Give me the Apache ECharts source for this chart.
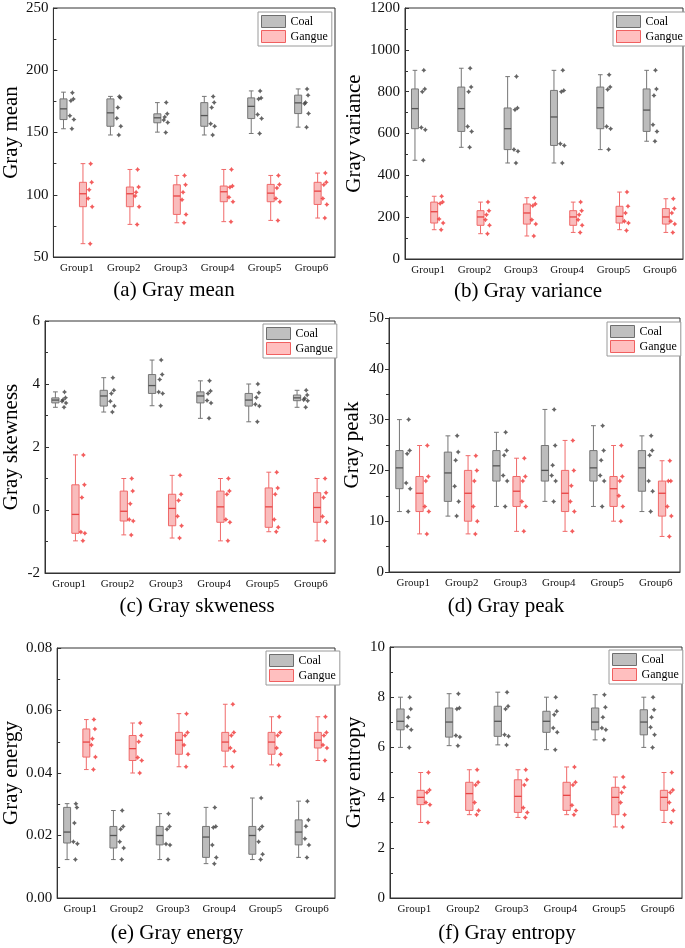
<!DOCTYPE html>
<html>
<head>
<meta charset="utf-8">
<title>Gray features</title>
<script src="https://cdn.jsdelivr.net/npm/echarts@6/dist/echarts.min.js"></script>
<style>
  html, body { margin: 0; padding: 0; background: #fff; }
  #main { width: 685px; height: 948px; }
</style>
</head>
<body>
<div id="main"></div>
<script>
var groups = ['Group1', 'Group2', 'Group3', 'Group4', 'Group5', 'Group6'];

// box rows: [min, q1, median, q3, max]
// (a) gray mean
var meanCoalBox = [[153, 160.4, 169, 177, 182.4], [148, 155, 165.8, 177, 179], [150.3, 157.8, 161.8, 165, 174], [148, 155, 163.6, 174, 179], [149.2, 161.2, 171, 177.8, 183.4], [154.3, 165.2, 173.8, 180, 185]];
var meanCoalPts = [[182, 177, 175.5, 163.5, 160.4, 153], [179, 178, 170, 161.5, 155, 148], [174, 165, 162.5, 160, 158, 150], [179, 174, 170, 157, 155, 148], [183.4, 177.8, 177, 164.4, 161.2, 149.2], [185, 180, 174, 173, 165.2, 154.3]];
var meanGangueBox = [[60.7, 90.4, 100.8, 110, 125], [76.2, 90.4, 100.8, 106.2, 120.3], [77.5, 84.2, 99, 108, 115.5], [78.4, 94.4, 102.4, 107, 120.3], [79.4, 94.4, 101.3, 108.3, 115.5], [81.3, 92.2, 102.9, 110, 117.4]];
var meanGanguePts = [[125, 110, 104, 97, 90.4, 60.7], [120.3, 106.2, 102, 99, 90.4, 76.2], [115.5, 108, 102, 96, 84.2, 77.5], [120.3, 107, 106, 98, 94.4, 78.4], [115.5, 108.3, 105.5, 97, 94.4, 79.4], [117.4, 110, 108, 97, 92.2, 81.3]];

// (b) gray variance
var varCoalBox = [[472, 623, 719, 813, 902], [534, 610, 719, 822, 912], [459, 523, 623, 722, 872], [459, 543, 679, 806, 902], [523, 623, 723, 822, 881], [563, 610, 712, 813, 902]];
var varCoalPts = [[902, 813, 800, 629, 618, 472], [912, 822, 800, 634, 610, 534], [872, 722, 714, 523, 515, 459], [902, 806, 800, 551, 543, 459], [881, 822, 810, 634, 623, 523], [902, 813, 782, 642, 610, 563]];
var varGangueBox = [[140, 172, 226, 272, 300], [121, 161, 201, 231, 272], [110, 167, 220, 263, 293], [127, 161, 201, 231, 272], [140, 172, 204, 252, 320], [127, 167, 201, 241, 288]];
var varGanguePts = [[300, 272, 265, 191, 172, 140], [272, 231, 212, 188, 161, 121], [293, 263, 255, 188, 167, 110], [272, 231, 212, 188, 161, 127], [320, 252, 220, 180, 172, 136], [288, 241, 220, 180, 167, 127]];

// (c) gray skewness
var skewCoalBox = [[3.26, 3.40, 3.49, 3.56, 3.75], [3.11, 3.30, 3.62, 3.80, 4.20], [3.31, 3.70, 3.95, 4.30, 4.76], [2.91, 3.40, 3.62, 3.75, 4.10], [2.80, 3.30, 3.49, 3.70, 4.00], [3.26, 3.47, 3.56, 3.65, 3.80]];
var skewCoalPts = [[3.75, 3.56, 3.50, 3.45, 3.40, 3.26], [4.20, 3.80, 3.70, 3.45, 3.30, 3.11], [4.76, 4.30, 4.14, 3.75, 3.70, 3.31], [4.10, 3.78, 3.70, 3.48, 3.40, 2.91], [4.00, 3.72, 3.57, 3.36, 3.30, 2.80], [3.80, 3.65, 3.55, 3.50, 3.47, 3.26]];
var skewGangueBox = [[-0.98, -0.74, -0.14, 0.80, 1.75], [-0.79, -0.35, -0.04, 0.60, 1.00], [-0.89, -0.50, 0.05, 0.50, 1.10], [-0.98, -0.39, 0.10, 0.60, 1.00], [-0.69, -0.55, 0.10, 0.70, 1.20], [-0.98, -0.39, 0.08, 0.55, 1.00]];
var skewGanguePts = [[1.75, 0.80, 0.40, -0.70, -0.74, -0.98], [1.00, 0.60, 0.20, -0.30, -0.35, -0.79], [1.10, 0.50, 0.30, -0.20, -0.50, -0.89], [1.00, 0.60, 0.50, -0.30, -0.39, -0.98], [1.20, 0.70, 0.50, -0.30, -0.55, -0.69], [1.00, 0.55, 0.40, -0.21, -0.39, -0.98]];

// (d) gray peak
var peakCoalBox = [[11.9, 16.4, 20.5, 23.9, 30], [11, 13.9, 19.5, 23.6, 26.8], [12.9, 17.9, 20.9, 23.9, 27.5], [13.9, 17.9, 20, 24.9, 32], [12.9, 17.9, 20.5, 23.9, 28.8], [11.9, 15.9, 20.5, 23.9, 26.8]];
var peakCoalPts = [[30, 23.9, 23.3, 17.5, 16.4, 11.9], [26.8, 23.6, 22, 16.9, 13.9, 11], [27.5, 23.9, 23, 19, 17.9, 12.9], [32, 24.9, 21, 19, 17.9, 13.9], [28.8, 23.9, 22, 19, 17.9, 12.9], [26.8, 23.9, 23, 17.9, 15.9, 11.9]];
var peakGangueBox = [[7.5, 11.9, 15.5, 18.8, 24.9], [7.5, 10, 15.5, 20, 22.9], [8, 12.9, 15.9, 18.8, 22.4], [8, 11.9, 15.5, 20, 25.9], [10, 12.9, 16.4, 18.8, 24.9], [7, 11, 15.5, 17.9, 21.9]];
var peakGanguePts = [[24.9, 18.8, 17.9, 12.9, 11.9, 7.5], [22.9, 20, 17.9, 12.9, 10, 7.5], [22.4, 18.8, 17.9, 13.9, 12.9, 8], [25.9, 20, 17, 13.9, 11.9, 8], [24.9, 18.8, 17.9, 15, 12.9, 10], [21.9, 17.9, 17.9, 12.9, 11, 7]];

// (e) gray energy
var energyCoalBox = [[0.0123, 0.0176, 0.0211, 0.029, 0.0302], [0.0123, 0.016, 0.020, 0.0229, 0.028], [0.0123, 0.017, 0.020, 0.0229, 0.027], [0.011, 0.013, 0.0195, 0.0229, 0.029], [0.0123, 0.014, 0.020, 0.0229, 0.032], [0.013, 0.017, 0.0211, 0.025, 0.031]];
var energyCoalPts = [[0.0302, 0.029, 0.024, 0.018, 0.0174, 0.0123], [0.028, 0.0229, 0.022, 0.018, 0.016, 0.0123], [0.027, 0.0229, 0.022, 0.0173, 0.017, 0.0123], [0.029, 0.0229, 0.0226, 0.017, 0.013, 0.011], [0.032, 0.0229, 0.022, 0.018, 0.014, 0.0123], [0.031, 0.025, 0.023, 0.019, 0.017, 0.013]];
var energyGangueBox = [[0.0411, 0.0451, 0.0499, 0.0541, 0.0571], [0.040, 0.044, 0.0478, 0.052, 0.056], [0.042, 0.046, 0.0505, 0.053, 0.059], [0.042, 0.047, 0.0499, 0.053, 0.062], [0.0426, 0.046, 0.0499, 0.053, 0.058], [0.044, 0.048, 0.0505, 0.053, 0.058]];
var energyGanguePts = [[0.0571, 0.0541, 0.051, 0.049, 0.0451, 0.0411], [0.056, 0.052, 0.050, 0.045, 0.044, 0.040], [0.059, 0.053, 0.052, 0.049, 0.046, 0.042], [0.062, 0.053, 0.052, 0.048, 0.047, 0.042], [0.058, 0.053, 0.052, 0.048, 0.046, 0.0426], [0.058, 0.053, 0.052, 0.049, 0.048, 0.044]];

// (f) gray entropy
var entropyCoalBox = [[6.0, 6.7, 7.04, 7.53, 8.0], [6.07, 6.41, 7.01, 7.57, 8.14], [6.1, 6.44, 7.04, 7.64, 8.2], [5.91, 6.6, 7.04, 7.44, 8.0], [6.3, 6.7, 7.01, 7.57, 8.1], [6.0, 6.5, 7.01, 7.5, 8.0]];
var entropyCoalPts = [[8.0, 7.53, 7.2, 6.84, 6.7, 6.0], [8.14, 7.57, 7.53, 6.47, 6.41, 6.07], [8.2, 7.64, 7.53, 6.5, 6.44, 6.1], [8.0, 7.44, 7.3, 6.77, 6.6, 5.91], [8.1, 7.6, 7.2, 6.77, 6.7, 6.3], [8.0, 7.5, 7.2, 6.8, 6.5, 6.0]];
var entropyGangueBox = [[3.01, 3.72, 4.01, 4.29, 5.0], [3.32, 3.49, 4.16, 4.61, 5.11], [3.21, 3.41, 4.05, 4.71, 5.11], [3.32, 3.49, 4.09, 4.61, 5.22], [2.83, 3.32, 4.01, 4.41, 4.82], [3.01, 3.49, 4.01, 4.29, 5.0]];
var entropyGanguePts = [[5.0, 4.3, 4.2, 3.8, 3.72, 3.01], [5.11, 4.61, 4.5, 3.8, 3.49, 3.32], [5.11, 4.71, 4.5, 3.6, 3.41, 3.21], [5.22, 4.61, 4.5, 3.7, 3.49, 3.32], [4.82, 4.41, 4.2, 3.8, 3.32, 2.83], [5.0, 4.3, 4.2, 3.8, 3.49, 3.01]];

var serif = "'Liberation Serif', 'Times New Roman', serif";
var coalStyle = { fill: '#bcbcbc', line: '#767676', median: '#555', dot: '#3f3f3f' };
var gangueStyle = { fill: '#f9bcbc', line: '#f06a6a', median: '#e84444', dot: '#f03434' };
var jitter = [0.5, 1.5, -1, -2, 2, 0];
var star = 'path://M0,-5 L2,-2 L5,0 L2,2 L0,5 L-2,2 L-5,0 L-2,-2 Z';

var panels = [
  { grid: [50, 8, 285, 249], y: [50, 250, 50], name: 'Gray mean', gap: 31, inside: true, title: '(a) Gray mean', tpos: [174, 292], leg: [258, 12],
    coalBox: meanCoalBox, coalPts: meanCoalPts, gangueBox: meanGangueBox, ganguePts: meanGanguePts },
  { grid: [405, 8, 278, 251], y: [0, 1200, 200], name: 'Gray variance', gap: 40, inside: true, title: '(b) Gray variance', tpos: [528, 293], leg: [613, 12],
    coalBox: varCoalBox, coalPts: varCoalPts, gangueBox: varGangueBox, ganguePts: varGanguePts },
  { grid: [41, 321, 294, 252], y: [-2, 6, 2], name: 'Gray skewness', gap: 23, inside: true, title: '(c) Gray skweness', tpos: [197, 608], leg: [263, 324],
    coalBox: skewCoalBox, coalPts: skewCoalPts, gangueBox: skewGangueBox, ganguePts: skewGanguePts },
  { grid: [389, 318, 291, 254], y: [0, 50, 10], name: 'Gray peak', gap: 26, inside: false, title: '(d) Gray peak', tpos: [506, 608], leg: [607, 322],
    coalBox: peakCoalBox, coalPts: peakCoalPts, gangueBox: peakGangueBox, ganguePts: peakGanguePts },
  { grid: [54, 648, 281, 250], y: [0, 0.08, 0.02], name: 'Gray energy', gap: 34, inside: true, title: '(e) Gray energy', tpos: [177, 935], leg: [266, 651], dec: 2,
    coalBox: energyCoalBox, coalPts: energyCoalPts, gangueBox: energyGangueBox, ganguePts: energyGanguePts },
  { grid: [390, 647, 292, 251], y: [0, 10, 2], name: 'Gray entropy', gap: 25, inside: true, title: '(f) Gray entropy', tpos: [507, 935], leg: [609, 650],
    coalBox: entropyCoalBox, coalPts: entropyCoalPts, gangueBox: entropyGangueBox, ganguePts: entropyGanguePts }
];

function boxItem(shift, c) {
  return function (params, api) {
    var k = api.value(0);
    var band = api.size([1, 0])[0];
    var x = api.coord([k, api.value(3)])[0] + shift * band;
    var w = band * 0.15;
    var y = [1, 2, 3, 4, 5].map(function (d) { return api.coord([k, api.value(d)])[1]; });
    var ls = { stroke: c.line, lineWidth: 1 };
    return {
      type: 'group',
      children: [
        { type: 'line', shape: { x1: x, y1: y[4], x2: x, y2: y[0] }, style: ls },
        { type: 'line', shape: { x1: x - w / 3, y1: y[4], x2: x + w / 3, y2: y[4] }, style: ls },
        { type: 'line', shape: { x1: x - w / 3, y1: y[0], x2: x + w / 3, y2: y[0] }, style: ls },
        { type: 'rect', shape: { x: x - w / 2, y: y[3], width: w, height: y[1] - y[3] }, style: { fill: c.fill, stroke: c.line, lineWidth: 1 } },
        { type: 'line', shape: { x1: x - w / 2, y1: y[2], x2: x + w / 2, y2: y[2] }, style: { stroke: c.median, lineWidth: 1.3 } }
      ]
    };
  };
}

function dots(pts, shift) {
  var out = [];
  pts.forEach(function (list, k) {
    list.forEach(function (v, j) {
      out.push({ value: [k, v], symbolOffset: [shift + jitter[j % jitter.length], 0] });
    });
  });
  return out;
}

var option = { animation: false, grid: [], xAxis: [], yAxis: [], series: [], legend: [], title: [] };

panels.forEach(function (p, i) {
  var band = p.grid[2] / groups.length;
  option.grid.push({ left: p.grid[0], top: p.grid[1], width: p.grid[2], height: p.grid[3], show: true, borderColor: '#333', borderWidth: 1 });
  option.xAxis.push({
    gridIndex: i, type: 'category', data: groups,
    axisLine: { onZero: false, lineStyle: { color: '#333' } },
    axisTick: { inside: true, alignWithLabel: true, length: 6, lineStyle: { color: '#333' } },
    axisLabel: { interval: 0, margin: 6, fontFamily: serif, fontSize: 11, color: '#111' }
  });
  option.yAxis.push({
    gridIndex: i, type: 'value', min: p.y[0], max: p.y[1], interval: p.y[2],
    name: p.name, nameLocation: 'middle', nameGap: p.gap,
    nameTextStyle: { fontFamily: serif, fontSize: 21, color: '#000' },
    axisLine: { show: true, lineStyle: { color: '#333' } },
    axisTick: { show: true, inside: p.inside, length: 4, lineStyle: { color: '#333' } },
    minorTick: { show: true, splitNumber: 2, length: 3, lineStyle: { color: '#333' } },
    splitLine: { show: false },
    axisLabel: {
      margin: 5, fontFamily: serif, fontSize: 15, color: '#111',
      formatter: function (v) { return p.dec ? v.toFixed(p.dec) : String(v); }
    }
  });
  option.series.push(
    { type: 'custom', name: 'Coal', xAxisIndex: i, yAxisIndex: i, renderItem: boxItem(-0.285, coalStyle),
      itemStyle: { color: coalStyle.fill }, encode: { x: 0, y: [1, 2, 3, 4, 5] },
      data: p.coalBox.map(function (b, k) { return [k].concat(b); }) },
    { type: 'custom', name: 'Gangue', xAxisIndex: i, yAxisIndex: i, renderItem: boxItem(0.13, gangueStyle),
      itemStyle: { color: gangueStyle.fill }, encode: { x: 0, y: [1, 2, 3, 4, 5] },
      data: p.gangueBox.map(function (b, k) { return [k].concat(b); }) },
    { type: 'scatter', name: 'Coal', xAxisIndex: i, yAxisIndex: i, symbol: star, symbolSize: 5,
      itemStyle: { color: coalStyle.dot }, data: dots(p.coalPts, -0.105 * band) },
    { type: 'scatter', name: 'Gangue', xAxisIndex: i, yAxisIndex: i, symbol: star, symbolSize: 5,
      itemStyle: { color: gangueStyle.dot }, data: dots(p.ganguePts, 0.28 * band) }
  );
  option.legend.push({
    left: p.leg[0], top: p.leg[1], orient: 'vertical', selectedMode: false,
    itemWidth: 24, itemHeight: 12, itemGap: 2, padding: [3, 4, 3, 3],
    backgroundColor: '#fff', borderColor: '#9a9a9a', borderWidth: 1,
    textStyle: { fontFamily: serif, fontSize: 12, color: '#000' },
    data: [
      { name: 'Coal', icon: 'rect', itemStyle: { color: '#bfbfbf', borderColor: '#6e6e6e', borderWidth: 1 } },
      { name: 'Gangue', icon: 'rect', itemStyle: { color: '#ffbfbf', borderColor: '#f06060', borderWidth: 1 } }
    ]
  });
  option.title.push({
    text: p.title, left: p.tpos[0], top: p.tpos[1] - 12, textAlign: 'center', padding: 0,
    textStyle: { fontFamily: serif, fontSize: 21, fontWeight: 'normal', color: '#000' }
  });
});

var chart = echarts.init(document.getElementById('main'));
chart.setOption(option);
</script>
</body>
</html>
